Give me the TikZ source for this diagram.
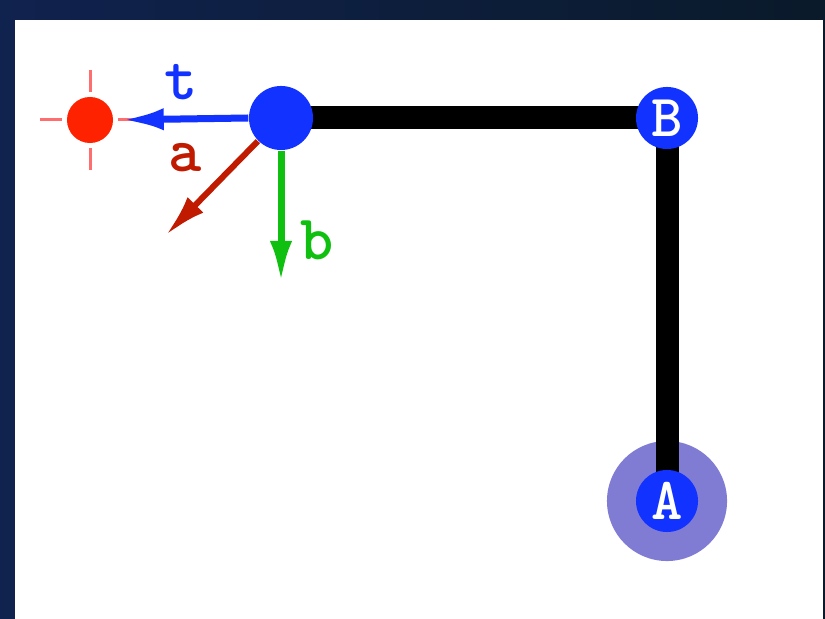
\documentclass[tikz,border=0pt]{standalone}
\usepackage{fontspec}
\newfontfamily\monofont{lmmonolt10-bold}[Extension=.otf]
\usepackage{xcolor}
\usetikzlibrary{positioning,arrows.meta,backgrounds}

\definecolor{ballblue}{RGB}{18,50,255}
\definecolor{haloblue}{RGB}{128,124,212}
\definecolor{dotred}{RGB}{255,34,0}
\definecolor{tickred}{RGB}{255,110,110}
\definecolor{accred}{RGB}{192,26,0}
\definecolor{velgreen}{RGB}{16,192,16}
\definecolor{bgleft}{RGB}{16,34,78}
\definecolor{bgright}{RGB}{10,26,42}

\begin{document}
\begin{tikzpicture}[x=0.01cm, y=-0.01cm,
    ball/.style={circle, fill=ballblue, inner sep=0pt, minimum size=#1},
    ball/.default=0.62cm,
    vec/.style={line width=#1, arrows={-Latex[length=0.42cm, width=0.22cm]}},
    vec/.default=0.07cm,
    beam/.style={line width=0.23cm, black},
    tick/.style={line width=0.03cm, tickred},
    lbl/.style={font=\monofont\fontsize{18pt}{20pt}\selectfont, inner sep=0pt},
    knot/.style={font=\monofont\fontsize{17pt}{19pt}\selectfont, text=white},
]
\useasboundingbox (0,0) rectangle (825,619);

% --- Target and bodies ---
\node[circle, fill=dotred, inner sep=0pt, minimum size=0.46cm] (target) at (90,120) {};
\node[ball=0.64cm] (obj) at (281,118) {};
\node[ball, knot] (B) at (667,118) {B};
\node[ball, knot] (A) at (667,501) {A};

% Target cross ticks
\foreach \ang in {0,90,180,270}
  \draw[tick] (target.center) ++(\ang:28) -- ++(\ang:22);

% Frame, halo and links behind the bodies
\begin{scope}[on background layer]
\shade[left color=bgleft, right color=bgright] (0,0) rectangle (825,619);
\fill[white] (15,20) rectangle (823,619);
\node[circle, fill=haloblue, inner sep=0pt, minimum size=1.2cm] (halo) at (A) {};
\draw[beam] (obj.center) -- (B.center) -- (A.center);
\end{scope}

% --- Arrows ---
\coordinate (atip) at (166,235);
\coordinate (btip) at (281,283);
\draw[vec, ballblue, shorten >=0.08cm] (obj.west) -- (target.east)
  node[lbl, midway, above=0.16cm, text=ballblue] (tlbl) {t};
\draw[vec=0.06cm, accred] (obj.225) -- (atip);
\draw[vec=0.07cm, velgreen] (obj.south) -- (btip)
  node[lbl, pos=0.68, right=0.16cm, text=velgreen] (blbl) {b};
\node[lbl, text=accred] (albl) at (185,158) {a};

\end{tikzpicture}
\end{document}
